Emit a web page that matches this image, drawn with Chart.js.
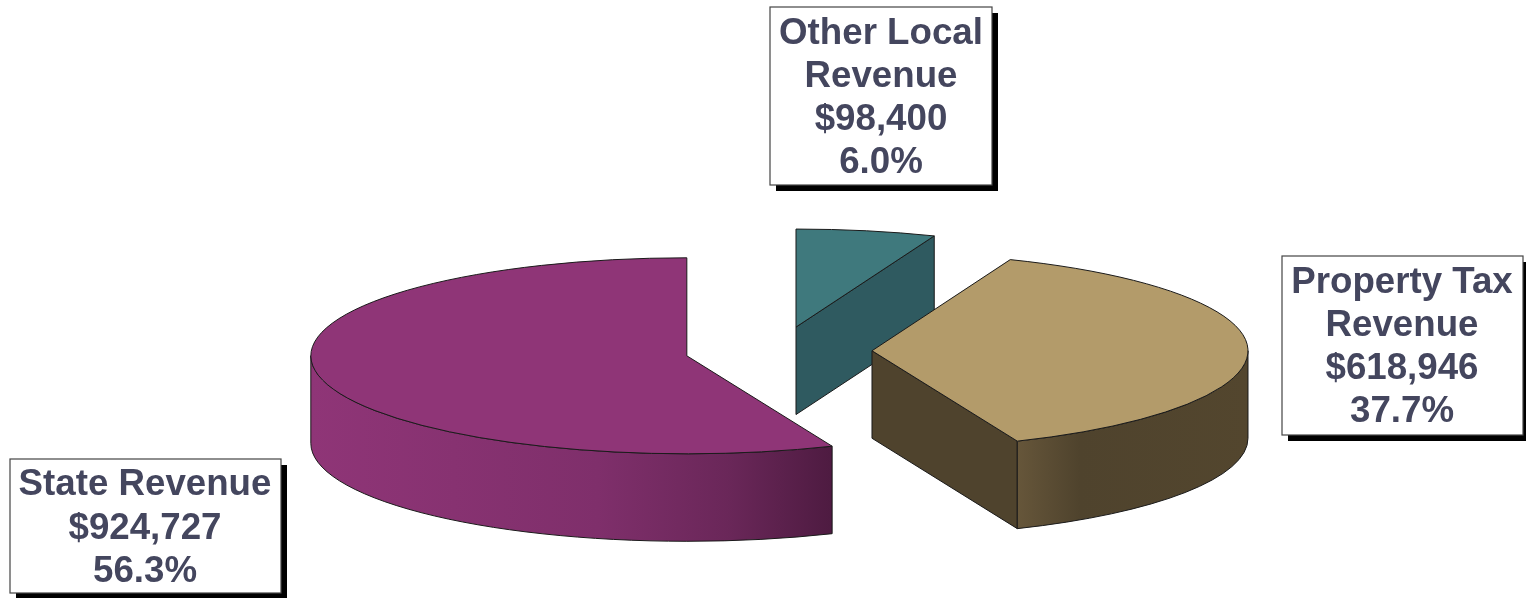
<!DOCTYPE html>
<html>
<head>
<meta charset="utf-8">
<style>
html,body{margin:0;padding:0;background:#fff;overflow:hidden}
#wrap{position:absolute;left:0;top:0;width:1526px;height:598px}
</style>
<script src="https://cdn.jsdelivr.net/npm/chart.js@4/dist/chart.umd.js"></script>
</head>
<body>
<div id="wrap"><canvas id="c" width="1526" height="598"></canvas></div>
<script>
const categories = ['Other Local Revenue', 'Property Tax Revenue', 'State Revenue'];
const revenue = [98400, 618946, 924727];
const valueLabels = ['$98,400', '$618,946', '$924,727'];
const percentLabels = ['6.0%', '37.7%', '56.3%'];
const topColors = ['#3f797d', '#b39b6a', '#8f3577'];
const faceColors = ['#2f5a60', '#4f432d', '#4f1b42'];
const wallStops = [
  [[0, '#2f5a60'], [1, '#2f5a60']],
  [[0, '#66563a'], [0.27, '#4f432d'], [1, '#53462e']],
  [[0, '#8f3577'], [0.55, '#7f2f6b'], [0.8, '#6a2759'], [1, '#4e1b41']]
];
const labelLines = [['Other Local', 'Revenue'], ['Property Tax', 'Revenue'], ['State Revenue']];

const RADIUS = 376, SQUASH = 98 / 376, DEPTH = 87.5, EXPLODE = 93.5;
const DRAW_ORDER = [0, 2, 1];

const boxes = [
  {l: 770, t: 7, r: 992, b: 185, base: [44, 87, 130, 173], cx: 881},
  {l: 1282, t: 256, r: 1523, b: 435, base: [293, 336, 379, 422], cx: 1402},
  {l: 10, t: 459, r: 281, b: 593, base: [495, 539, 582], cx: 145}
];

const pie3d = {
  id: 'pie3d',
  beforeDatasetsDraw(chart) {
    const ctx = chart.ctx;
    const arcs = chart.getDatasetMeta(0).data;
    DRAW_ORDER.forEach(i => drawSlice(ctx, arcs[i], i));
    return false;
  },
  afterDraw(chart) {
    const ctx = chart.ctx;
    boxes.forEach((b, i) => {
      ctx.save();
      ctx.fillStyle = '#000';
      ctx.fillRect(b.l + 6, b.t + 6, b.r - b.l, b.b - b.t);
      ctx.fillStyle = '#fff';
      ctx.fillRect(b.l, b.t, b.r - b.l, b.b - b.t);
      ctx.strokeStyle = '#444';
      ctx.lineWidth = 1.2;
      ctx.strokeRect(b.l, b.t, b.r - b.l, b.b - b.t);
      ctx.fillStyle = '#44465e';
      ctx.font = 'bold 36.7px "Liberation Sans", Arial, sans-serif';
      ctx.textAlign = 'center';
      ctx.textBaseline = 'alphabetic';
      const lines = labelLines[i].concat([valueLabels[i], percentLabels[i]]);
      lines.forEach((t, j) => ctx.fillText(t, b.cx, b.base[j]));
      ctx.restore();
    });
  }
};

function drawSlice(ctx, arc, i) {
  const a0 = arc.startAngle, a1 = arc.endAngle, mid = (a0 + a1) / 2;
  const r = arc.outerRadius;
  const cx = arc.x + Math.cos(mid) * EXPLODE;
  const cy = arc.y + Math.sin(mid) * EXPLODE * SQUASH;
  const ry = r * SQUASH;
  const pt = a => [cx + Math.cos(a) * r, cy + Math.sin(a) * ry];
  ctx.save();
  ctx.lineJoin = 'round';
  ctx.strokeStyle = '#1a1a1a';
  ctx.lineWidth = 1;

  // cut face on the clockwise end of the slice, when it faces the viewer
  if (Math.cos(a1) > 0.001) {
    const p = pt(a1);
    ctx.beginPath();
    ctx.moveTo(cx, cy);
    ctx.lineTo(p[0], p[1]);
    ctx.lineTo(p[0], p[1] + DEPTH);
    ctx.lineTo(cx, cy + DEPTH);
    ctx.closePath();
    ctx.fillStyle = faceColors[i];
    ctx.fill();
    ctx.stroke();
  }

  // outer wall: the part of the rim on the front half of the ellipse
  const TAU = Math.PI * 2;
  let s = a0, e = a1;
  while (s < 0) { s += TAU; e += TAU; }
  let ws = null, we = null;
  [0, TAU].forEach(base => {
    const x0 = Math.max(s, base), x1 = Math.min(e, base + Math.PI);
    if (x1 > x0 && ws === null) { ws = x0; we = x1; }
  });
  if (ws !== null) {
    const xa = pt(ws)[0], xb = pt(we)[0];
    const g = ctx.createLinearGradient(Math.min(xa, xb), 0, Math.max(xa, xb), 0);
    wallStops[i].forEach(st => g.addColorStop(st[0], st[1]));
    ctx.beginPath();
    ctx.ellipse(cx, cy, r, ry, 0, ws, we);
    ctx.ellipse(cx, cy + DEPTH, r, ry, 0, we, ws, true);
    ctx.closePath();
    ctx.fillStyle = g;
    ctx.fill();
    ctx.stroke();
  }

  // top of the slice: the library's own arc, flattened
  ctx.save();
  ctx.translate(cx, cy);
  ctx.scale(1, SQUASH);
  ctx.translate(-arc.x, -arc.y);
  arc.draw(ctx);
  ctx.restore();

  ctx.beginPath();
  ctx.moveTo(cx, cy);
  ctx.ellipse(cx, cy, r, ry, 0, a0, a1);
  ctx.closePath();
  ctx.stroke();
  ctx.restore();
}

new Chart(document.getElementById('c'), {
  type: 'pie',
  data: {
    labels: categories,
    datasets: [{
      data: revenue,
      backgroundColor: topColors,
      borderWidth: 0,
      radius: RADIUS
    }]
  },
  options: {
    responsive: false,
    animation: false,
    events: [],
    layout: {padding: {left: 31, top: 104, right: 0, bottom: 0}},
    plugins: {legend: {display: false}, tooltip: {enabled: false}}
  },
  plugins: [pie3d]
});
</script>
</body>
</html>
